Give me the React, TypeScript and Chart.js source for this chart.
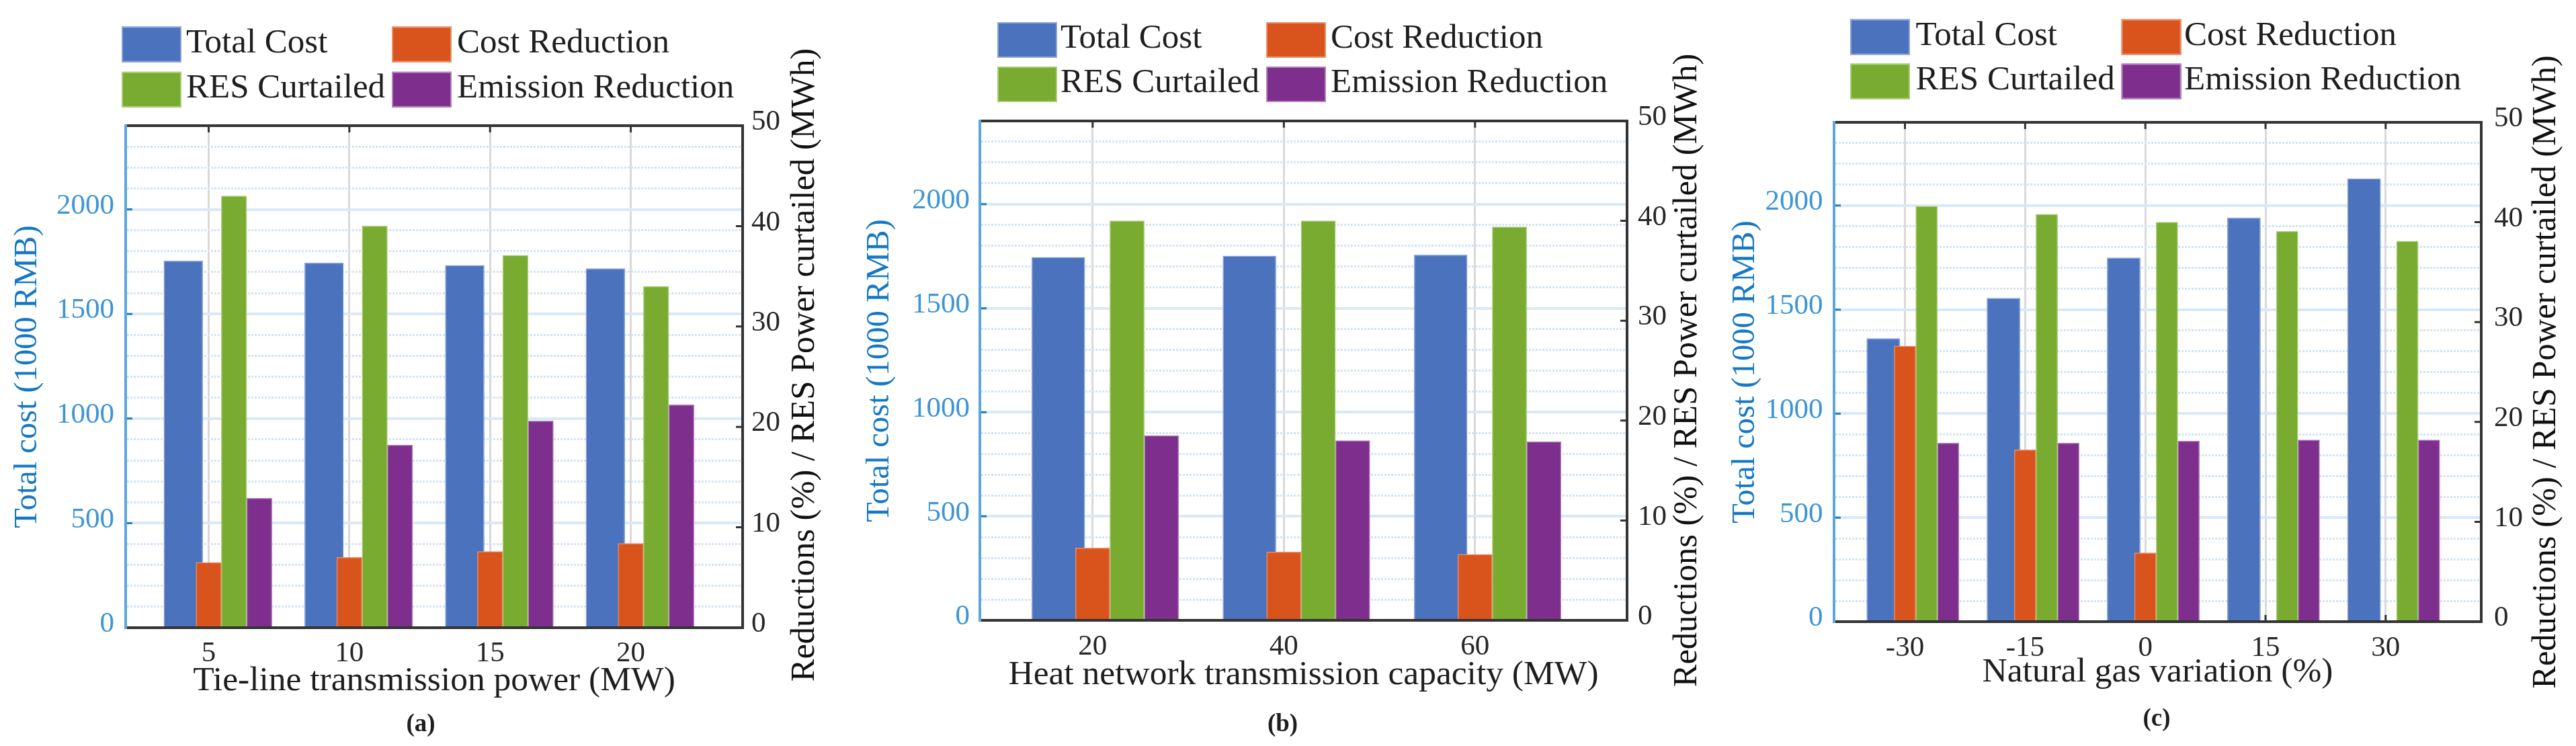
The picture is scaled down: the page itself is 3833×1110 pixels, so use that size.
import React, { useEffect, useRef } from 'react';
import { Chart, registerables } from 'chart.js';

Chart.register(...registerables);

// ---------------- data ----------------
const SERIES_LABELS = ['Total Cost', 'Cost Reduction', 'RES Curtailed', 'Emission Reduction'];

const A_CATEGORIES = ['5', '10', '15', '20'];
const A_TOTAL_COST = [1755, 1745, 1733, 1718];
const A_COST_REDUCTION = [6.5, 7.0, 7.6, 8.4];
const A_RES_CURTAILED = [43.0, 40.0, 37.1, 34.0];
const A_EMISSION_REDUCTION = [12.9, 18.2, 20.6, 22.2];

const B_CATEGORIES = ['20', '40', '60'];
const B_TOTAL_COST = [1746, 1752, 1757];
const B_COST_REDUCTION = [7.25, 6.85, 6.6];
const B_RES_CURTAILED = [40.0, 40.0, 39.4];
const B_EMISSION_REDUCTION = [18.5, 18.0, 17.9];

const C_CATEGORIES = ['-30', '-15', '0', '15', '30'];
const C_TOTAL_COST = [1362, 1556, 1750, 1942, 2130];
const C_COST_REDUCTION = [27.6, 17.2, 6.9, 0, 0];
const C_RES_CURTAILED = [41.6, 40.8, 40.0, 39.1, 38.1];
const C_EMISSION_REDUCTION = [17.9, 17.9, 18.1, 18.2, 18.2];

const LEFT_AXIS_TICKS = [0, 500, 1000, 1500, 2000];
const RIGHT_AXIS_TICKS = [0, 10, 20, 30, 40, 50];
const LEFT_AXIS_MAX = 2400;
const RIGHT_AXIS_MAX = 50;

const LEFT_TITLE = 'Total cost (1000 RMB)';
const RIGHT_TITLE = 'Reductions (%) / RES Power curtailed (MWh)';
const X_TITLES = [
  'Tie-line transmission power (MW)',
  'Heat network transmission capacity (MW)',
  'Natural gas variation (%)',
];
const CAPTIONS = ['(a)', '(b)', '(c)'];

// ---------------- styles ----------------
const FONT = '"Liberation Serif", "Times New Roman", serif';
const COLORS = ['#4A72BD', '#D9541D', '#78AB30', '#7E2F8E'];
const EDGE_COLORS = ['#8aa3da', '#ea8f69', '#a9cd78', '#b383bd'];
const BAR_OFFSETS = [-0.18, 0, 0.18, 0.36];
const BAR_PCT = [1.556, 1, 1, 1];
const AXIS_DARK = '#333333';
const LEFT_AXIS_LINE = '#5aa7de';
const LEFT_TICK_MARK = '#1f7fca';
const LEFT_TICK_COLOR = '#3d95d5';
const LEFT_TITLE_COLOR = '#1578c5';
const TEXT_DARK = '#1e1e1e';
const GRID_MAJOR = '#dbe8f5';
const GRID_MINOR = '#d3e3f3';
const GRID_VERTICAL = '#d9d9d9';
const TICK_LEN = 10;

type PanelCfg = {
  left: number; width: number; height: number;
  L: number; R: number; T: number; B: number;
  categories: string[]; total: number[]; cost: number[]; res: number[]; emis: number[];
  xTitle: string; caption: string;
  leftTitlePad: number; leftTickPad: number; rightTickPad: number; xTickPad: number; xTitlePad: number;
  rightTitleX: number; rightTitleY: number; captionX: number; captionY: number;
  legCol: number[]; legRow: number[]; legTextOff: number[];
};

const PANELS: PanelCfg[] = [
  {
    left: 0, width: 1280, height: 1110, L: 187, R: 1105, T: 187, B: 934,
    categories: A_CATEGORIES, total: A_TOTAL_COST, cost: A_COST_REDUCTION, res: A_RES_CURTAILED, emis: A_EMISSION_REDUCTION,
    xTitle: X_TITLES[0], caption: CAPTIONS[0],
    leftTitlePad: 12, leftTickPad: 17, rightTickPad: 13, xTickPad: 12.5, xTitlePad: 66,
    rightTitleX: 1197.5, rightTitleY: 543, captionX: 626, captionY: 1078,
    legCol: [181, 583], legRow: [39.6, 106.8], legTextOff: [96, 97],
  },
  {
    left: 1280, width: 1280, height: 1110, L: 178, R: 1141, T: 180, B: 923,
    categories: B_CATEGORIES, total: B_TOTAL_COST, cost: B_COST_REDUCTION, res: B_RES_CURTAILED, emis: B_EMISSION_REDUCTION,
    xTitle: X_TITLES[1], caption: CAPTIONS[1],
    leftTitlePad: 0, leftTickPad: 15, rightTickPad: 16, xTickPad: 14.4, xTitlePad: 75,
    rightTitleX: 1230.5, rightTitleY: 551, captionX: 628.5, captionY: 1078,
    legCol: [204, 604], legRow: [33, 99], legTextOff: [94, 96],
  },
  {
    left: 2560, width: 1273, height: 1110, L: 169, R: 1132, T: 182, B: 925,
    categories: C_CATEGORIES, total: C_TOTAL_COST, cost: C_COST_REDUCTION, res: C_RES_CURTAILED, emis: C_EMISSION_REDUCTION,
    xTitle: X_TITLES[2], caption: CAPTIONS[2],
    leftTitlePad: 8, leftTickPad: 16.5, rightTickPad: 19, xTickPad: 14.2, xTitlePad: 79,
    rightTitleX: 1229, rightTitleY: 553.5, captionX: 649, captionY: 1070,
    legCol: [193, 596.6], legRow: [28.6, 94.6], legTextOff: [97.6, 93.4],
  },
];

function makeDeco(p: PanelCfg) {
  return {
    id: 'panelDeco',
    beforeDatasetsDraw(chart: any) {
      const { ctx, chartArea: a } = chart;
      const sx = chart.scales.x;
      const sy = chart.scales.y;
      const sy1 = chart.scales.y1;
      ctx.save();
      ctx.lineWidth = 3;
      ctx.strokeStyle = AXIS_DARK;
      ctx.beginPath();
      p.categories.forEach((_c, i) => {
        const x = sx.getPixelForValue(i);
        ctx.moveTo(x, a.bottom);
        ctx.lineTo(x, a.bottom - TICK_LEN);
        ctx.moveTo(x, a.top);
        ctx.lineTo(x, a.top + TICK_LEN);
      });
      RIGHT_AXIS_TICKS.forEach((v) => {
        const y = sy1.getPixelForValue(v);
        ctx.moveTo(a.right, y);
        ctx.lineTo(a.right - TICK_LEN, y);
      });
      ctx.stroke();
      ctx.strokeStyle = LEFT_TICK_MARK;
      ctx.beginPath();
      LEFT_AXIS_TICKS.forEach((v) => {
        const y = sy.getPixelForValue(v);
        ctx.moveTo(a.left, y);
        ctx.lineTo(a.left + TICK_LEN, y);
      });
      ctx.stroke();
      ctx.restore();
    },
    afterDatasetsDraw(chart: any) {
      const { ctx, chartArea: a } = chart;
      ctx.save();
      ctx.strokeStyle = AXIS_DARK;
      ctx.lineWidth = 4;
      ctx.beginPath();
      ctx.moveTo(a.left - 2, a.top);
      ctx.lineTo(a.right + 2, a.top);
      ctx.stroke();
      ctx.restore();
    },
    afterDraw(chart: any) {
      const { ctx } = chart;
      ctx.save();
      // legend (2 x 2)
      ctx.font = `51px ${FONT}`;
      ctx.textAlign = 'left';
      ctx.textBaseline = 'alphabetic';
      SERIES_LABELS.forEach((label, i) => {
        const col = i % 2;
        const row = Math.floor(i / 2);
        const x = p.legCol[col];
        const y = p.legRow[row];
        ctx.fillStyle = COLORS[i];
        ctx.fillRect(x, y, 89, 53);
        ctx.strokeStyle = EDGE_COLORS[i];
        ctx.lineWidth = 2;
        ctx.strokeRect(x + 1, y + 1, 87, 51);
        ctx.fillStyle = TEXT_DARK;
        ctx.fillText(label, x + p.legTextOff[col], y + 38);
      });
      // right axis title (reads bottom to top)
      ctx.save();
      ctx.translate(p.rightTitleX, p.rightTitleY);
      ctx.rotate(-Math.PI / 2);
      ctx.font = `50.5px ${FONT}`;
      ctx.fillStyle = '#111111';
      ctx.textAlign = 'center';
      ctx.textBaseline = 'middle';
      ctx.fillText(RIGHT_TITLE, 0, 0);
      ctx.restore();
      // caption
      ctx.font = `bold 37px ${FONT}`;
      ctx.fillStyle = TEXT_DARK;
      ctx.textAlign = 'center';
      ctx.textBaseline = 'middle';
      ctx.fillText(p.caption, p.captionX, p.captionY);
      ctx.restore();
    },
  };
}

function buildConfig(p: PanelCfg): any {
  const n = p.categories.length;
  const series = [p.total, p.cost, p.res, p.emis];
  const datasets = series.map((vals, k) => ({
    label: SERIES_LABELS[k],
    data: vals.map((v, i) => ({ x: i + BAR_OFFSETS[k], y: v })),
    yAxisID: k === 0 ? 'y' : 'y1',
    backgroundColor: COLORS[k],
    borderColor: EDGE_COLORS[k],
    borderWidth: 1.5,
    borderSkipped: 'start',
    barPercentage: BAR_PCT[k],
    categoryPercentage: 1,
    grouped: false,
    order: k === 0 ? 1 : 0,
  }));
  return {
    type: 'bar',
    data: { datasets },
    options: {
      responsive: false,
      animation: false,
      events: [],
      layout: { padding: { left: 0, right: 0, top: p.T, bottom: 0 } },
      plugins: { legend: { display: false }, tooltip: { enabled: false }, title: { display: false } },
      scales: {
        x: {
          type: 'linear',
          min: -0.59,
          max: n - 1 + 0.795,
          offset: false,
          afterBuildTicks: (s: any) => {
            s.ticks = p.categories.map((_c, i) => ({ value: i }));
          },
          afterFit: (s: any) => {
            s.height = p.height - p.B;
          },
          ticks: {
            stepSize: 1,
            autoSkip: false,
            maxRotation: 0,
            minRotation: 0,
            padding: p.xTickPad,
            font: { family: FONT, size: 43 },
            color: '#262626',
            callback: (v: number) => (p.categories[v] !== undefined ? p.categories[v] : ''),
          },
          grid: { offset: false, drawTicks: false, color: GRID_VERTICAL, lineWidth: 3 },
          border: { display: true, color: AXIS_DARK, width: 4, z: 1 },
          title: {
            display: true,
            text: p.xTitle,
            font: { family: FONT, size: 51.5 },
            color: TEXT_DARK,
            padding: { top: 0, bottom: p.xTitlePad },
          },
        },
        y: {
          type: 'linear',
          position: 'left',
          min: 0,
          max: LEFT_AXIS_MAX,
          afterFit: (s: any) => {
            s.width = p.L;
          },
          ticks: {
            stepSize: 100,
            autoSkip: false,
            padding: p.leftTickPad,
            labelOffset: -5,
            font: { family: FONT, size: 43 },
            color: LEFT_TICK_COLOR,
            callback: (v: number) => (LEFT_AXIS_TICKS.includes(v) ? String(v) : ''),
          },
          grid: {
            drawTicks: false,
            color: (c: any) => (c.tick && c.tick.value % 500 === 0 ? GRID_MAJOR : GRID_MINOR),
            lineWidth: (c: any) => (c.tick && c.tick.value % 500 === 0 ? 4 : 3),
          },
          border: {
            display: true,
            color: LEFT_AXIS_LINE,
            width: 4,
            z: 1,
            dash: (c: any) => (c.tick && c.tick.value % 500 !== 0 ? [3, 2] : []),
          },
          title: {
            display: true,
            text: LEFT_TITLE,
            font: { family: FONT, size: 48.5 },
            color: LEFT_TITLE_COLOR,
            padding: { top: p.leftTitlePad, bottom: 0 },
          },
        },
        y1: {
          type: 'linear',
          position: 'right',
          min: 0,
          max: RIGHT_AXIS_MAX,
          afterFit: (s: any) => {
            s.width = p.width - p.R;
          },
          ticks: {
            stepSize: 10,
            autoSkip: false,
            padding: p.rightTickPad,
            labelOffset: -5,
            font: { family: FONT, size: 43 },
            color: '#262626',
            callback: (v: number) => (RIGHT_AXIS_TICKS.includes(v) ? String(v) : ''),
          },
          grid: { display: false, drawOnChartArea: false, drawTicks: false },
          border: { display: true, color: AXIS_DARK, width: 4, z: 1 },
          title: { display: false },
        },
      },
    },
    plugins: [makeDeco(p)],
  };
}

function Panel({ p }: { p: PanelCfg }) {
  const ref = useRef<HTMLCanvasElement | null>(null);
  useEffect(() => {
    if (!ref.current) return;
    const chart = new Chart(ref.current, buildConfig(p));
    return () => chart.destroy();
  }, [p]);
  return (
    <canvas
      ref={ref}
      width={p.width}
      height={p.height}
      style={{ position: 'absolute', left: p.left, top: 0, width: p.width, height: p.height }}
    />
  );
}

export default function App() {
  return (
    <div style={{ position: 'absolute', left: 0, top: 0, width: 3833, height: 1110, background: '#ffffff', overflow: 'hidden' }}>
      {PANELS.map((p, i) => (
        <Panel key={i} p={p} />
      ))}
    </div>
  );
}
